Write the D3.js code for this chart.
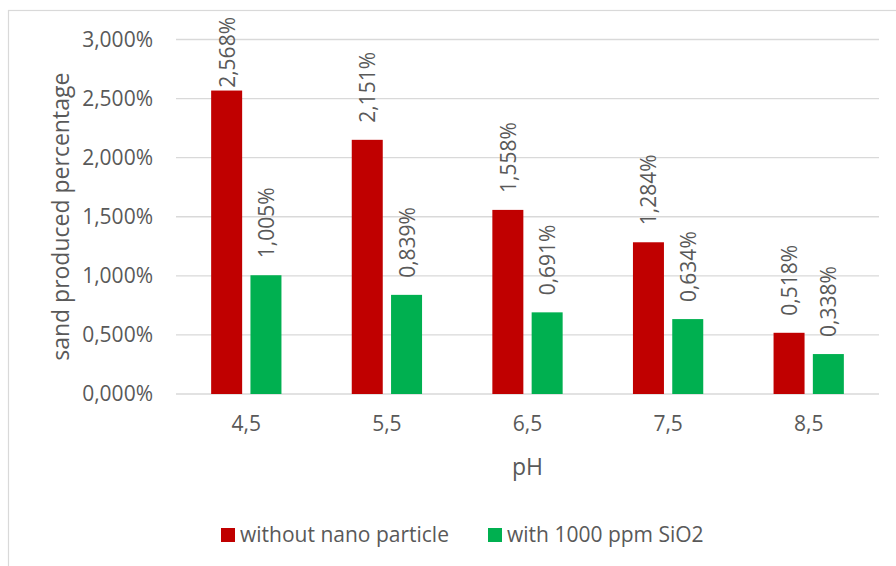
<!DOCTYPE html>
<html>
<head>
<meta charset="utf-8">
<script src="https://cdn.jsdelivr.net/npm/d3@7"></script>
<style>
  html, body { margin: 0; padding: 0; background: #fff; }
  svg { display: block; font-family: "Open Sans", "Noto Sans", sans-serif; }
</style>
</head>
<body>
<svg id="chart" width="896" height="566"></svg>
<script>
// pH levels and sand produced (%) for each treatment
const categories = ["4,5", "5,5", "6,5", "7,5", "8,5"];
const seriesNames = ["without nano particle", "with 1000 ppm SiO2"];
const withoutNano = [2.568, 2.151, 1.558, 1.284, 0.518];
const withSiO2 = [1.005, 0.839, 0.691, 0.634, 0.338];
const yTicks = [0, 0.5, 1.0, 1.5, 2.0, 2.5, 3.0];
const colors = ["#C00000", "#00B050"];

const series = [withoutNano, withSiO2];
const svg = d3.select("#chart");
const textColor = "#595959";
const fontSize = "21px";
const fmt = v => d3.format(".3f")(v).replace(".", ",") + "%";

// outer chart frame
svg.append("rect")
  .attr("x", 8.5).attr("y", 10.5)
  .attr("width", 900).attr("height", 600)
  .attr("fill", "none").attr("stroke", "#D9D9D9").attr("stroke-width", 1.2);

const plot = { left: 176, right: 879, top: 39.5, bottom: 394 };

const x0 = d3.scaleBand().domain(categories).range([plot.left, plot.right]).padding(0);
const y = d3.scaleLinear().domain([0, 3]).range([plot.bottom, plot.top]);

// horizontal gridlines
svg.append("g").selectAll("line").data(yTicks).join("line")
  .attr("x1", plot.left).attr("x2", plot.right)
  .attr("y1", d => y(d)).attr("y2", d => y(d))
  .attr("stroke", "#D9D9D9").attr("stroke-width", 1.4);

// y axis labels
const yAxis = d3.axisLeft(y).tickValues(yTicks).tickSize(0).tickPadding(0).tickFormat(fmt);
const gy = svg.append("g").attr("transform", `translate(153,0)`).call(yAxis);
gy.select(".domain").remove();
gy.selectAll("text").attr("fill", textColor).style("font-size", fontSize)
  .style("font-family", "'Open Sans', sans-serif");

// x axis labels
const xAxis = d3.axisBottom(x0).tickSize(0).tickPadding(0);
const gx = svg.append("g").attr("transform", `translate(0,416)`).call(xAxis);
gx.select(".domain").remove();
gx.selectAll("text").attr("fill", textColor).style("font-size", fontSize)
  .style("font-family", "'Open Sans', sans-serif");

// bars
const barW = 31, gap = 8.3;
const offsets = [-(barW + gap) / 2, (barW + gap) / 2];
series.forEach((vals, si) => {
  const g = svg.append("g");
  g.selectAll("rect").data(vals).join("rect")
    .attr("x", (d, i) => x0(categories[i]) + x0.bandwidth() / 2 + offsets[si] - barW / 2)
    .attr("y", d => y(d))
    .attr("width", barW)
    .attr("height", d => y(0) - y(d))
    .attr("fill", colors[si]);
  // rotated value labels above bars, kept inside the chart frame
  g.selectAll("text").data(vals).join("text")
    .attr("text-anchor", "start")
    .attr("fill", textColor)
    .style("font-size", fontSize)
    .text(d => fmt(d))
    .attr("transform", function (d, i) {
      const cx = x0(categories[i]) + x0.bandwidth() / 2 + offsets[si];
      const len = this.getComputedTextLength();
      const base = Math.max(y(d) - 17, 17 + len);
      return `translate(${cx + 8},${base}) rotate(-90)`;
    });
});

// axis titles
svg.append("text")
  .attr("transform", `translate(69,${(plot.top + plot.bottom) / 2}) rotate(-90)`)
  .attr("text-anchor", "middle").attr("fill", textColor).style("font-size", "23px")
  .text("sand produced percentage");

svg.append("text")
  .attr("x", (plot.left + plot.right) / 2).attr("y", 475)
  .attr("text-anchor", "middle").attr("fill", textColor).style("font-size", "23px")
  .text("pH");

// legend
const legendX = [221, 488];
const lg = svg.append("g");
seriesNames.forEach((name, i) => {
  lg.append("rect").attr("x", legendX[i]).attr("y", 528).attr("width", 14).attr("height", 14)
    .attr("fill", colors[i]);
  lg.append("text").attr("x", legendX[i] + 19).attr("y", 542)
    .attr("fill", textColor).style("font-size", fontSize).text(name);
});
</script>
</body>
</html>
